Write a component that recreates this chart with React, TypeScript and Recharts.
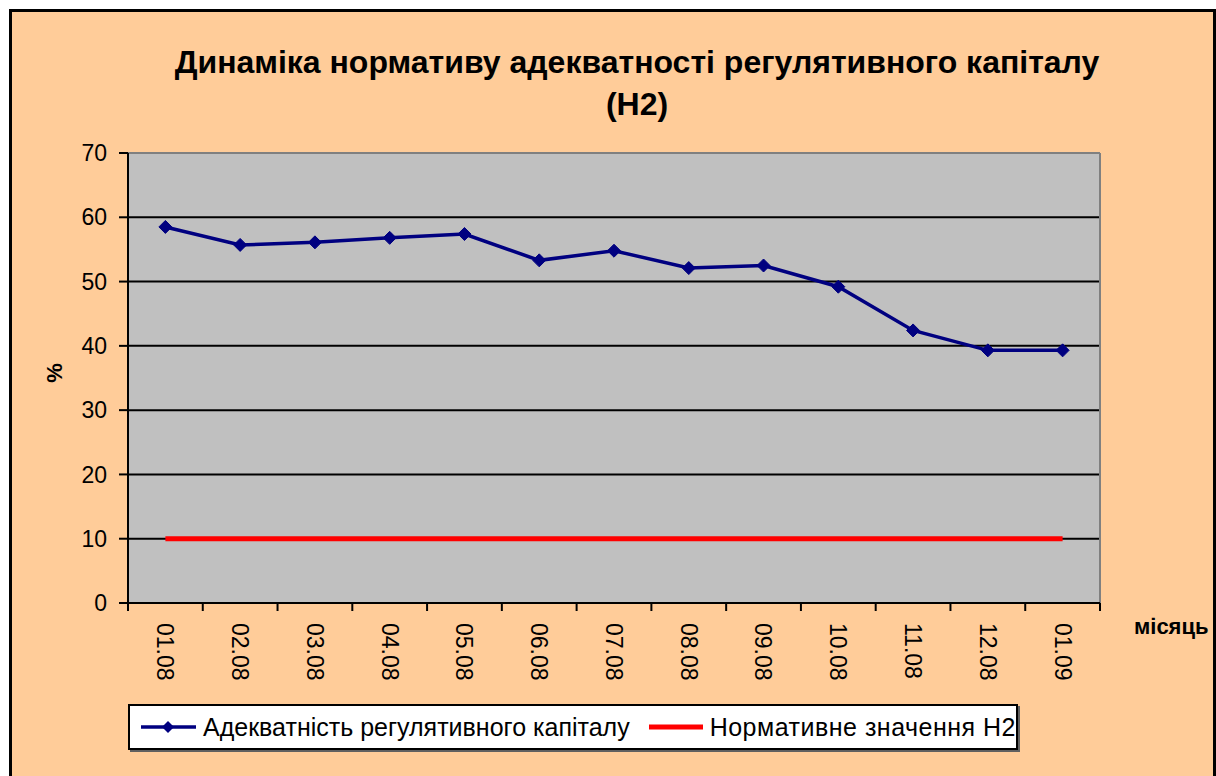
import React from 'react';
import {
  ComposedChart, Line, XAxis, YAxis, CartesianGrid, Legend,
} from 'recharts';

const MONTHS = ['01.08', '02.08', '03.08', '04.08', '05.08', '06.08', '07.08', '08.08', '09.08', '10.08', '11.08', '12.08', '01.09'];
const ADEQUACY = [58.5, 55.7, 56.1, 56.8, 57.4, 53.3, 54.8, 52.1, 52.5, 49.2, 42.4, 39.3, 39.3];
const NORMATIVE = [10, 10, 10, 10, 10, 10, 10, 10, 10, 10, 10, 10, 10];
const Y_TICKS = [0, 10, 20, 30, 40, 50, 60, 70];

const SERIES_NAMES = ['Адекватність регулятивного капіталу', 'Нормативне значення Н2'];

const FONT = '"Liberation Sans", Arial, sans-serif';
const NAVY = '#000080';
const RED = '#FF0000';

const PLOT_W = 972;
const HALF_BAND = PLOT_W / MONTHS.length / 2;

const data = MONTHS.map((m, i) => ({ month: m, adequacy: ADEQUACY[i], normative: NORMATIVE[i] }));

const Diamond = (props: any) => {
  const { cx, cy } = props;
  if (cx == null || cy == null) return null;
  const r = 6.5;
  return <polygon points={`${cx},${cy - r} ${cx + r},${cy} ${cx},${cy + r} ${cx - r},${cy}`} fill={NAVY} stroke={NAVY} />;
};

// label rotated 90deg, plus tick marks on the band boundaries (Excel style)
const MonthTick = (props: any) => {
  const { x, y, payload, index } = props;
  const last = index === MONTHS.length - 1;
  return (
    <g>
      <line x1={x - HALF_BAND} y1={y} x2={x - HALF_BAND} y2={y + 8} stroke="#000" strokeWidth={2} />
      {last && <line x1={x + HALF_BAND} y1={y} x2={x + HALF_BAND} y2={y + 8} stroke="#000" strokeWidth={2} />}
      <text
        transform={`translate(${x},${y + 20}) rotate(90)`}
        x={0}
        y={0}
        dy="0.35em"
        textAnchor="start"
        fontFamily={FONT}
        fontSize={23}
        fill="#000"
      >
        {payload.value}
      </text>
    </g>
  );
};

const renderLegend = () => (
  <div
    style={{
      width: 886,
      height: 42,
      background: '#fff',
      border: '2px solid #000',
      boxShadow: '2px 2px 0 #606060',
      display: 'flex',
      alignItems: 'center',
      fontFamily: FONT,
      fontSize: 25,
      color: '#000',
      boxSizing: 'content-box',
      whiteSpace: 'nowrap',
    }}
  >
    <svg width={58} height={20} style={{ marginLeft: 10 }}>
      <line x1={1} y1={10} x2={56} y2={10} stroke={NAVY} strokeWidth={3.5} />
      <polygon points="28,4 34,10 28,16 22,10" fill={NAVY} />
    </svg>
    <span style={{ marginLeft: 5 }}>{SERIES_NAMES[0]}</span>
    <svg width={56} height={20} style={{ marginLeft: 18 }}>
      <line x1={1} y1={10} x2={55} y2={10} stroke={RED} strokeWidth={5} />
    </svg>
    <span style={{ marginLeft: 6, letterSpacing: 0.5 }}>{SERIES_NAMES[1]}</span>
  </div>
);

export default function App() {
  return (
    <div style={{ position: 'fixed', left: 0, top: 0, width: 1216, height: 776, background: '#fff', overflow: 'hidden' }}>
      <div
        style={{
          position: 'absolute', left: 9, top: 9, width: 1207, height: 800, boxSizing: 'border-box',
          border: '3px solid #000', background: '#FFCC99',
        }}
      />
      <div
        style={{
          position: 'absolute', left: 0, top: 41, width: 1274, textAlign: 'center',
          fontFamily: FONT, fontWeight: 'bold', fontSize: 32, lineHeight: '42px', color: '#000',
        }}
      >
        Динаміка нормативу адекватності регулятивного капіталу
        <br />
        (Н2)
      </div>
      <div
        style={{
          position: 'absolute', left: 55, top: 373, transform: 'translate(-50%,-50%) rotate(-90deg)',
          fontFamily: FONT, fontWeight: 'bold', fontSize: 22, color: '#000',
        }}
      >
        %
      </div>
      <div
        style={{
          position: 'absolute', left: 1134, top: 614,
          fontFamily: FONT, fontWeight: 'bold', fontSize: 22, color: '#000',
        }}
      >
        місяць
      </div>
      <div style={{ position: 'absolute', left: 0, top: 0 }}>
        <ComposedChart width={1216} height={776} data={data} margin={{ top: 153, right: 116, bottom: 85, left: 0 }}>
          <CartesianGrid vertical={false} stroke="#000" strokeWidth={2} fill="#C0C0C0" fillOpacity={1} />
          {/* grey frame on the top and right of the plot area */}
          <CartesianGrid
            stroke="#808080"
            strokeWidth={2}
            horizontalCoordinatesGenerator={({ offset }: any) => [offset.top]}
            verticalCoordinatesGenerator={({ offset }: any) => [offset.left + offset.width]}
          />
          <XAxis
            dataKey="month"
            type="category"
            interval={0}
            height={88}
            padding={{ left: HALF_BAND, right: HALF_BAND }}
            axisLine={{ stroke: '#000', strokeWidth: 2 }}
            tickLine={false}
            tickSize={0}
            tickMargin={0}
            tick={<MonthTick />}
          />
          <YAxis
            domain={[0, 70]}
            ticks={Y_TICKS}
            interval={0}
            width={128}
            tickSize={9}
            tickMargin={12}
            axisLine={{ stroke: '#000', strokeWidth: 2 }}
            tickLine={{ stroke: '#000', strokeWidth: 2 }}
            tick={{ fontFamily: FONT, fontSize: 23, fill: '#000' }}
          />
          <Line
            dataKey="normative"
            name={SERIES_NAMES[1]}
            stroke={RED}
            strokeWidth={5}
            dot={false}
            activeDot={false}
            isAnimationActive={false}
          />
          <Line
            dataKey="adequacy"
            name={SERIES_NAMES[0]}
            stroke={NAVY}
            strokeWidth={3.5}
            dot={<Diamond />}
            activeDot={false}
            isAnimationActive={false}
          />
          <Legend
            layout="horizontal"
            verticalAlign="middle"
            align="center"
            content={renderLegend}
            wrapperStyle={{ left: 128, top: 704, width: 890 }}
          />
        </ComposedChart>
      </div>
    </div>
  );
}
